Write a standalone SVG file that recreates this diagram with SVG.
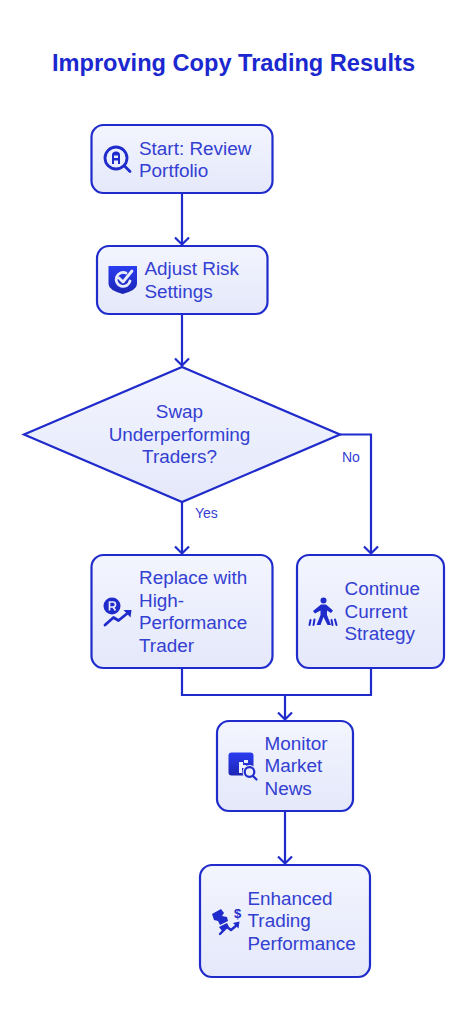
<svg xmlns="http://www.w3.org/2000/svg" width="469" height="1024" viewBox="0 0 469 1024">
<style>
text{font-family:"Liberation Sans",Arial,sans-serif;fill:#3340d2}
.t{font-size:18.900px}
.title{font-size:23.600px;font-weight:700;fill:#1b28cf}
.e{font-size:14px}
.n{stroke:#1f2bcb;stroke-width:2.200;fill:url(#g)}
.c{fill:none;stroke:#1f2bcb;stroke-width:2.200}
.i{fill:#1f2bcb}
.o{fill:none;stroke:#1f2bcb;stroke-linecap:round;stroke-linejoin:round}
</style>
<defs>
<linearGradient id="g" x1="0" y1="0" x2="0" y2="1"><stop offset="0" stop-color="#f3f5fe"/><stop offset="1" stop-color="#e4e8fa"/></linearGradient>
<linearGradient id="s" x1="0" y1="0" x2="0" y2="1"><stop offset="0" stop-color="#2a3cf0"/><stop offset="1" stop-color="#1c25b4"/></linearGradient>
<marker id="a" markerWidth="18" markerHeight="18" refX="9" refY="9" orient="auto" markerUnits="userSpaceOnUse"><path d="M2 2L9 9L2 16" fill="none" stroke="#1f2bcb" stroke-width="2.200"/></marker>
</defs>
<rect width="469" height="1024" fill="#fff"/>
<text class="title" x="233.500" y="70.500" text-anchor="middle">Improving Copy Trading Results</text>
<g id="connectors">
<path class="c" d="M182 193V244.500" marker-end="url(#a)"/>
<path class="c" d="M182 314V365.500" marker-end="url(#a)"/>
<path class="c" d="M182 502V553.500" marker-end="url(#a)"/>
<path class="c" d="M340 434.500H371V553.500" marker-end="url(#a)"/>
<path class="c" d="M182 668V695H285V719.500" marker-end="url(#a)"/>
<path class="c" d="M371 668V695H285"/>
<path class="c" d="M285 811V863.500" marker-end="url(#a)"/>
<text class="e" x="195" y="518">Yes</text>
<text class="e" x="342" y="462">No</text>
</g>
<g id="start">
<rect class="n" x="91.500" y="125" width="181" height="68" rx="12"/>
<circle class="o" style="stroke-width:2.800" cx="116" cy="158" r="11"/>
<path class="o" style="stroke-width:2.800" d="M124.500 166L130 171.500"/>
<path class="i" d="M112 164V155Q112 151.500 116 151.500Q120 151.500 120 155V164H118V160.500H114V164ZM114 155.500V158H118V155.500Z"/>
<text class="t"><tspan x="139" y="155">Start: Review</tspan><tspan x="139" y="177">Portfolio</tspan></text>
</g>
<g id="adjust">
<rect class="n" x="97" y="246" width="170.500" height="68" rx="12"/>
<path fill="url(#s)" d="M108.500 266H137V284Q137 290 122.700 294Q108.500 290 108.500 284Z"/>
<path d="M126 273A7 7 0 1 0 130 281M119 278L123 282L132 271" fill="none" stroke="#e9ecfb" stroke-width="2.800" stroke-linecap="round" stroke-linejoin="round"/>
<text class="t"><tspan x="144.500" y="275">Adjust Risk</tspan><tspan x="144.500" y="298">Settings</tspan></text>
</g>
<g id="decision">
<polygon class="n" points="24,434.500 182,367 340,434.500 182,502"/>
<text class="t" text-anchor="middle"><tspan x="179.500" y="418">Swap</tspan><tspan x="179.500" y="441">Underperforming</tspan><tspan x="179.500" y="463">Traders?</tspan></text>
</g>
<g id="replace">
<rect class="n" x="91.500" y="555" width="181" height="113" rx="12"/>
<circle class="i" cx="112" cy="606" r="8.500"/>
<path d="M109.500 610.500V602H113Q115.500 602 115.500 604.500Q115.500 607 113 607H109.500M113 607L115.500 610.500" fill="none" stroke="#e9ecfb" stroke-width="1.700"/>
<path class="o" style="stroke-width:2.800" d="M105 625L113.500 617.500L118.500 620.500L129 612"/>
<path class="i" d="M123.500 610L131.500 610L130.500 617.500Z"/>
<text class="t"><tspan x="139" y="584">Replace with</tspan><tspan x="139" y="607">High-</tspan><tspan x="139" y="629">Performance</tspan><tspan x="139" y="652">Trader</tspan></text>
</g>
<g id="continue">
<rect class="n" x="297" y="555" width="147" height="113" rx="12"/>
<circle class="i" cx="323.500" cy="600.500" r="3"/>
<path class="i" d="M321 604.500H326L333 610.500L331 613L327 610.500V615L331 625H327.500L323.500 617L320.500 625H316.500L320.500 615V610.500L315 613.500L313 611Z"/>
<path class="o" style="stroke-width:2" d="M310.500 620L309.500 625M314.500 619.500L313.500 625M331.500 620L332.500 625M335 619.500L336.500 625"/>
<text class="t"><tspan x="344.500" y="595">Continue</tspan><tspan x="344.500" y="618">Current</tspan><tspan x="344.500" y="640">Strategy</tspan></text>
</g>
<g id="monitor">
<rect class="n" x="217" y="721" width="136" height="90" rx="12"/>
<rect fill="url(#s)" x="228.500" y="752.500" width="25" height="23" rx="3"/>
<path d="M239 762H243V765H246V768H242V773H239ZM244 760H248V763H244Z" fill="#eceffc"/>
<circle cx="249.500" cy="772" r="7" fill="#eaedfb"/>
<circle class="o" style="stroke-width:2.200" cx="249.500" cy="772" r="4.800"/>
<path class="o" style="stroke-width:2.200" d="M253 776L256.500 779.500"/>
<text class="t"><tspan x="264.500" y="750">Monitor</tspan><tspan x="264.500" y="772">Market</tspan><tspan x="264.500" y="795">News</tspan></text>
</g>
<g id="enhanced">
<rect class="n" x="200" y="865" width="170" height="112" rx="12"/>
<path class="i" d="M212 914L221 909L224 913L222 916L227 917L228 921L220 925L218 921L214 920ZM219 927L227 923L229 927L222 931Z"/>
<text x="234" y="917.500" font-size="13" font-weight="700" style="fill:#1f2bcb">$</text>
<path class="o" style="stroke-width:2.400" d="M220 934L227 927L231 930L237 925"/>
<path class="i" d="M233 923L239.500 921.500L238.500 928.500Z"/>
<text class="t"><tspan x="247.500" y="905">Enhanced</tspan><tspan x="247.500" y="927">Trading</tspan><tspan x="247.500" y="950">Performance</tspan></text>
</g>
</svg>
